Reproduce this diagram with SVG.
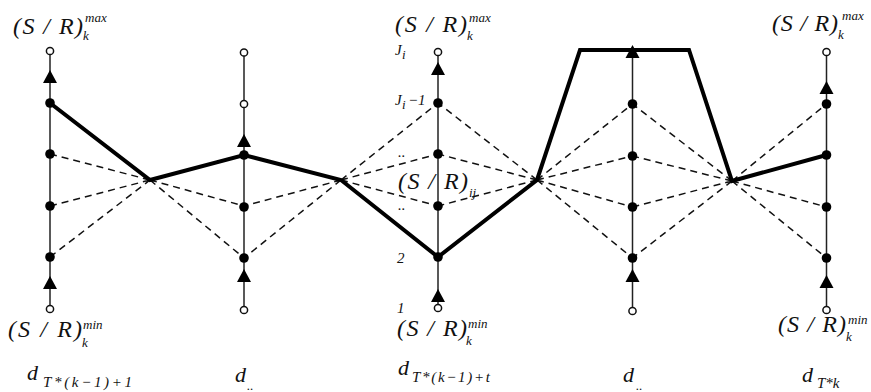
<svg xmlns="http://www.w3.org/2000/svg" width="871" height="392" viewBox="0 0 871 392">
<style>
.ax{stroke:#222;stroke-width:1.5;fill:none}
.dash{stroke:#111;stroke-width:1.5;stroke-dasharray:7 5;fill:none}
.thick{stroke:#000;stroke-width:4;fill:none;stroke-linejoin:miter}
.dot{fill:#000}
.open{fill:#fff;stroke:#111;stroke-width:1.5}
.t{font-style:italic;fill:#111}
.big{font-size:24px}
.sup{font-size:13px}
.lab{font-size:15px}
.d{font-size:22px}
.sub{font-size:15px}
</style>
<defs>
<path id="tri" d="M0,0 L7,13 L-7,13 Z" fill="#000"/>
</defs>
<g id="connectors">
<g id="dashed">
<path class="dash" d="M50,154 L150,180 M50,206 L150,180 M50,257 L150,180"/>
<path class="dash" d="M150,180 L244,206 M150,180 L244,258"/>
<path class="dash" d="M341,180 L244,206 M341,180 L244,258"/>
<path class="dash" d="M341,180 L438,103 M341,180 L438,154 M341,180 L438,206"/>
<path class="dash" d="M537,180 L438,103 M537,180 L438,154 M537,180 L438,206"/>
<path class="dash" d="M537,180 L632.5,104 M537,180 L632.5,156 M537,180 L632.5,207 M537,180 L632.5,258"/>
<path class="dash" d="M732,181 L632.5,104 M732,181 L632.5,156 M732,181 L632.5,207 M732,181 L632.5,258"/>
<path class="dash" d="M732,181 L826.5,104 M732,181 L826.5,207 M732,181 L826.5,258"/>
</g>
<path id="path-thick" class="thick" d="M50,103 L150,180 L244,155 L341,180 L438,257 L537,180 L580,50 L689,50 L732,181 L826.5,155"/>
</g>
<g id="axis1">
<line class="ax" x1="50" y1="52" x2="50" y2="308"/>
<use href="#tri" x="50" y="70"/>
<use href="#tri" x="50" y="276"/>
<circle class="dot" cx="50" cy="103" r="4.8"/>
<circle class="dot" cx="50" cy="154" r="4.8"/>
<circle class="dot" cx="50" cy="206" r="4.8"/>
<circle class="dot" cx="50" cy="257" r="4.8"/>
<circle class="open" cx="50" cy="51" r="3.6"/>
<circle class="open" cx="50" cy="309" r="3.6"/>
</g>
<g id="axis2">
<line class="ax" x1="244" y1="53" x2="244" y2="310"/>
<use href="#tri" x="244" y="134"/>
<use href="#tri" x="244" y="269"/>
<circle class="dot" cx="244" cy="155" r="4.8"/>
<circle class="dot" cx="244" cy="207" r="4.8"/>
<circle class="dot" cx="244" cy="258" r="4.8"/>
<circle class="open" cx="244" cy="52.5" r="3.6"/>
<circle class="open" cx="244" cy="104" r="3.6"/>
<circle class="open" cx="244" cy="310" r="3.6"/>
</g>
<g id="axis3">
<line class="ax" x1="438" y1="52" x2="438" y2="308"/>
<use href="#tri" x="438" y="62"/>
<use href="#tri" x="438" y="289"/>
<circle class="dot" cx="438" cy="103" r="4.8"/>
<circle class="dot" cx="438" cy="154" r="4.8"/>
<circle class="dot" cx="438" cy="206" r="4.8"/>
<circle class="dot" cx="438" cy="257" r="4.8"/>
<circle class="open" cx="438" cy="52" r="3.6"/>
<circle class="open" cx="438" cy="308" r="3.6"/>
</g>
<g id="axis4">
<line class="ax" x1="632.5" y1="47" x2="632.5" y2="311"/>
<use href="#tri" x="632.5" y="45"/>
<use href="#tri" x="632.5" y="269"/>
<circle class="dot" cx="632.5" cy="104" r="4.8"/>
<circle class="dot" cx="632.5" cy="156" r="4.8"/>
<circle class="dot" cx="632.5" cy="207" r="4.8"/>
<circle class="dot" cx="632.5" cy="258" r="4.8"/>
<circle class="open" cx="632.5" cy="311" r="3.6"/>
</g>
<g id="axis5">
<line class="ax" x1="826.5" y1="52" x2="826.5" y2="310"/>
<use href="#tri" x="826.5" y="81"/>
<use href="#tri" x="826.5" y="275"/>
<circle class="dot" cx="826.5" cy="104" r="4.8"/>
<circle class="dot" cx="826.5" cy="155" r="4.8"/>
<circle class="dot" cx="826.5" cy="207" r="4.8"/>
<circle class="dot" cx="826.5" cy="258" r="4.8"/>
<circle class="open" cx="826.5" cy="52" r="3.6"/>
<circle class="open" cx="826.5" cy="310" r="3.6"/>
</g>
<g id="labels" font-family="'Liberation Serif', 'Times New Roman', 'DejaVu Serif', serif">
<text class="t big" x="13" y="34" textLength="70" lengthAdjust="spacing">(S / R)</text>
<text class="t sup" x="85" y="22">max</text>
<text class="t sup" x="83" y="40">k</text>
<text class="t big" x="8" y="337" textLength="74" lengthAdjust="spacing">(S / R)</text>
<text class="t sup" x="83" y="329">min</text>
<text class="t sup" x="82" y="347">k</text>
<text class="t d" x="27" y="380">d</text>
<text class="t sub" x="43" y="387" textLength="89" lengthAdjust="spacing">T*(k−1)+1</text>
<text class="t d" x="235" y="382">d</text>
<text class="t sup" x="247" y="390" font-size="8">..</text>
<text class="t big" x="395" y="32" textLength="72" lengthAdjust="spacing">(S / R)</text>
<text class="t sup" x="469" y="22">max</text>
<text class="t sup" x="467" y="40">k</text>
<text class="t lab" x="395" y="55">J</text>
<text class="t sup" x="402" y="59" font-size="10">i</text>
<text class="t lab" x="395" y="105">J</text>
<text class="t sup" x="402" y="109" font-size="10">i</text>
<text class="t lab" x="408" y="105">−1</text>
<text class="t lab" x="398" y="157">..</text>
<text class="t big" x="398" y="189" textLength="70" lengthAdjust="spacing">(S / R)</text>
<text class="t sup" x="469" y="197">ij</text>
<text class="t lab" x="398" y="210">..</text>
<text class="t lab" x="397" y="263">2</text>
<text class="t lab" x="397" y="313">1</text>
<text class="t big" x="397" y="336" textLength="70" lengthAdjust="spacing">(S / R)</text>
<text class="t sup" x="468" y="328">min</text>
<text class="t sup" x="466" y="345">k</text>
<text class="t d" x="398" y="375">d</text>
<text class="t sub" x="412" y="382" textLength="78" lengthAdjust="spacing">T*(k−1)+t</text>
<text class="t d" x="623" y="382">d</text>
<text class="t sup" x="636" y="390" font-size="8">..</text>
<text class="t big" x="772" y="31" textLength="66" lengthAdjust="spacing">(S / R)</text>
<text class="t sup" x="842" y="20">max</text>
<text class="t sup" x="838" y="39">k</text>
<text class="t big" x="778" y="332" textLength="68" lengthAdjust="spacing">(S / R)</text>
<text class="t sup" x="848" y="324">min</text>
<text class="t sup" x="846" y="341">k</text>
<text class="t d" x="802" y="382">d</text>
<text class="t sub" x="817" y="388">T*k</text>
</g>
</svg>
